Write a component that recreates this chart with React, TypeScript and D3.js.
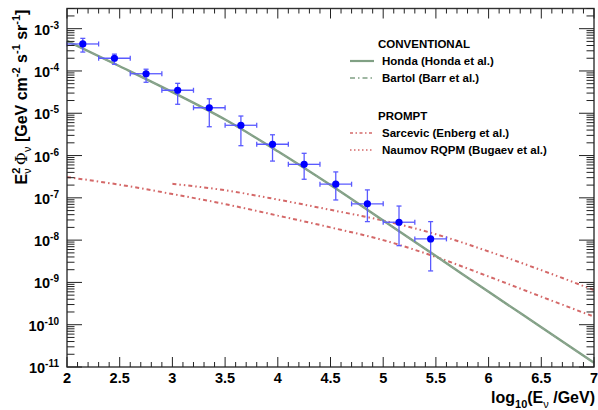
import React, { useRef, useEffect } from "react";
import * as d3 from "d3";

// measured points (IceCube-like unfolding)
const dataLogE = [2.15, 2.45, 2.75, 3.05, 3.35, 3.65, 3.95, 4.25, 4.55, 4.85, 5.15, 5.45];
const dataFlux = [4.35e-4, 2.0e-4, 8.6e-5, 3.5e-5, 1.35e-5, 5.2e-6, 1.85e-6, 6.2e-7, 2.1e-7, 7.2e-8, 2.65e-8, 1.07e-8];
const dataHigh = [5.9e-4, 2.5e-4, 1.1e-4, 5.1e-5, 2.2e-5, 8.6e-6, 3.1e-6, 1.13e-6, 4.1e-7, 1.54e-7, 6.4e-8, 2.74e-8];
const dataLow = [2.8e-4, 1.44e-4, 5.4e-5, 1.63e-5, 4.8e-6, 1.71e-6, 7.4e-7, 2.75e-7, 8.9e-8, 2.74e-8, 7.4e-9, 1.87e-9];
const binHalfWidth = 0.15;

// model curves
const convLogE = [2, 2.5, 3, 3.5, 4, 4.5, 5, 5.5, 6, 6.5, 7];
const hondaFlux = [5.13e-4, 1.29e-4, 3.16e-5, 7.1e-6, 1.26e-6, 2.0e-7, 2.9e-8, 4.2e-9, 6.0e-10, 8.7e-11, 1.26e-11];
const bartolFlux = [5.1e-4, 1.28e-4, 3.15e-5, 7.0e-6, 1.25e-6, 1.98e-7, 2.88e-8, 4.15e-9, 5.95e-10, 8.6e-11, 1.24e-11];
const sarcevicFlux = [3.1e-7, 2.04e-7, 1.23e-7, 7.1e-8, 3.8e-8, 2.0e-8, 1.0e-8, 4.0e-9, 1.38e-9, 4.6e-10, 1.55e-10];
const naumovLogE = [3, 3.5, 4, 4.5, 5, 5.5, 6, 6.5, 7];
const naumovFlux = [2.14e-7, 1.51e-7, 9.1e-8, 5.2e-8, 2.9e-8, 1.38e-8, 5.4e-9, 1.95e-9, 6.6e-10];

const xTicks = [2, 2.5, 3, 3.5, 4, 4.5, 5, 5.5, 6, 6.5, 7];
const yExponents = [-3, -4, -5, -6, -7, -8, -9, -10, -11];

const W = 598, H = 410;
const plot = { left: 67, right: 594, top: 8.5, bottom: 367 };
const FONT = "Liberation Sans, Arial, Helvetica, sans-serif";
const GREEN = "#80a084";
const RED = "#d46868";

export default function App() {
  const ref = useRef<SVGSVGElement>(null);

  useEffect(() => {
    const svg = d3.select(ref.current);
    svg.selectAll("*").remove();

    const x = d3.scaleLinear().domain([2, 7]).range([plot.left, plot.right]);
    const y = d3.scaleLog().domain([1e-11, 3e-3]).range([plot.bottom, plot.top]);

    const g = svg.append("g");

    // curves
    const line = d3.line<[number, number]>()
      .x(d => x(d[0]))
      .y(d => y(d[1]))
      .curve(d3.curveMonotoneX);

    const curves = [
      { e: convLogE, f: sarcevicFlux, color: RED, w: 2, dash: "4,3,1.5,3" },
      { e: naumovLogE, f: naumovFlux, color: RED, w: 2, dash: "4,3,1.5,3,1.5,3" },
      { e: convLogE, f: hondaFlux, color: GREEN, w: 2.4, dash: null },
      { e: convLogE, f: bartolFlux, color: "#8fa592", w: 1.2, dash: "6,3,1.5,3" },
    ];
    curves.forEach(c => {
      g.append("path")
        .datum(c.e.map((e, i) => [e, c.f[i]] as [number, number]))
        .attr("fill", "none")
        .attr("stroke", c.color)
        .attr("stroke-width", c.w)
        .attr("stroke-dasharray", c.dash)
        .attr("d", line);
    });

    // data points with error bars
    const errColor = "#5a5aff";
    const pts = g.selectAll(".pt").data(dataLogE.map((e, i) => ({ e, f: dataFlux[i], hi: dataHigh[i], lo: dataLow[i] })))
      .enter().append("g").attr("class", "pt");
    pts.append("line")
      .attr("x1", d => x(d.e - binHalfWidth)).attr("x2", d => x(d.e + binHalfWidth))
      .attr("y1", d => y(d.f)).attr("y2", d => y(d.f))
      .attr("stroke", errColor).attr("stroke-width", 1.3);
    pts.append("line")
      .attr("x1", d => x(d.e)).attr("x2", d => x(d.e))
      .attr("y1", d => y(d.hi)).attr("y2", d => y(d.lo))
      .attr("stroke", errColor).attr("stroke-width", 1.3);
    // end caps
    [-binHalfWidth, binHalfWidth].forEach(off => {
      pts.append("line")
        .attr("x1", d => x(d.e + off)).attr("x2", d => x(d.e + off))
        .attr("y1", d => y(d.f) - 2.5).attr("y2", d => y(d.f) + 2.5)
        .attr("stroke", errColor).attr("stroke-width", 1.3);
    });
    ["hi", "lo"].forEach(k => {
      pts.append("line")
        .attr("x1", d => x(d.e) - 2.5).attr("x2", d => x(d.e) + 2.5)
        .attr("y1", (d: any) => y(d[k])).attr("y2", (d: any) => y(d[k]))
        .attr("stroke", errColor).attr("stroke-width", 1.3);
    });
    pts.append("circle")
      .attr("cx", d => x(d.e)).attr("cy", d => y(d.f))
      .attr("r", 3.6).attr("fill", "#0000ff");

    // frame
    g.append("rect")
      .attr("x", plot.left).attr("y", plot.top)
      .attr("width", plot.right - plot.left).attr("height", plot.bottom - plot.top)
      .attr("fill", "none").attr("stroke", "#333").attr("stroke-width", 1.4);

    const tickColor = "#222";
    // x ticks (bottom and top)
    const xMinor = d3.range(20, 71).map(v => v / 10);
    xMinor.forEach(v => {
      const major = Math.abs(v * 2 - Math.round(v * 2)) < 1e-6;
      const len = major ? 10 : 5;
      g.append("line").attr("x1", x(v)).attr("x2", x(v))
        .attr("y1", plot.bottom).attr("y2", plot.bottom - len)
        .attr("stroke", tickColor).attr("stroke-width", 1);
      g.append("line").attr("x1", x(v)).attr("x2", x(v))
        .attr("y1", plot.top).attr("y2", plot.top + len)
        .attr("stroke", tickColor).attr("stroke-width", 1);
    });

    // y ticks (left and right)
    const yTicksAll: { v: number; major: boolean }[] = [];
    for (let p = -11; p <= -3; p++) {
      for (let m = 1; m <= 9; m++) {
        const v = m * Math.pow(10, p);
        if (v <= 3.0001e-3) yTicksAll.push({ v, major: m === 1 });
      }
    }
    yTicksAll.forEach(t => {
      const len = t.major ? 15 : 7.5;
      g.append("line").attr("x1", plot.left).attr("x2", plot.left + len)
        .attr("y1", y(t.v)).attr("y2", y(t.v))
        .attr("stroke", tickColor).attr("stroke-width", 1);
      g.append("line").attr("x1", plot.right).attr("x2", plot.right - len)
        .attr("y1", y(t.v)).attr("y2", y(t.v))
        .attr("stroke", tickColor).attr("stroke-width", 1);
    });

    // x tick labels
    g.selectAll(".xl").data(xTicks).enter().append("text")
      .attr("x", d => x(d)).attr("y", 383)
      .attr("text-anchor", "middle")
      .style("font-family", FONT).style("font-weight", "bold").style("font-size", "14.5px")
      .text(d => String(d));

    // y tick labels 10^n
    yExponents.forEach(p => {
      const t = g.append("text")
        .attr("x", 59).attr("y", y(Math.pow(10, p)) + 6)
        .attr("text-anchor", "end")
        .style("font-family", FONT).style("font-weight", "bold").style("font-size", "14.5px");
      t.append("tspan").text("10");
      t.append("tspan").attr("dy", -6).style("font-size", "10px").text(String(p));
    });

    // x axis title
    const xt = g.append("text")
      .attr("x", 595).attr("y", 403).attr("text-anchor", "end")
      .style("font-family", FONT).style("font-weight", "bold").style("font-size", "16px");
    xt.append("tspan").text("log");
    xt.append("tspan").attr("dy", 5).style("font-size", "11px").text("10");
    xt.append("tspan").attr("dy", -5).text("(E");
    xt.append("tspan").attr("dy", 5).style("font-size", "11px").style("font-weight", "normal").text("ν");
    xt.append("tspan").attr("dy", -5).text(" /GeV)");

    // y axis title
    const yt = g.append("text")
      .attr("transform", "translate(27,97) rotate(-90)")
      .attr("text-anchor", "middle")
      .style("font-family", FONT).style("font-weight", "bold").style("font-size", "16px");
    yt.append("tspan").text("E");
    yt.append("tspan").attr("dy", -7).style("font-size", "11px").text("2");
    yt.append("tspan").attr("dx", -6).attr("dy", 11).style("font-size", "11px").style("font-weight", "normal").text("ν");
    yt.append("tspan").attr("dy", -4).attr("dx", 3).style("font-family", "DejaVu Serif, serif").style("font-weight", "normal").text("Φ");
    yt.append("tspan").attr("dy", 4).style("font-size", "11px").style("font-weight", "normal").text("ν");
    yt.append("tspan").attr("dy", -4).text("  [GeV cm");
    yt.append("tspan").attr("dy", -7).style("font-size", "11px").text("-2");
    yt.append("tspan").attr("dy", 7).text(" s");
    yt.append("tspan").attr("dy", -7).style("font-size", "11px").text("-1");
    yt.append("tspan").attr("dy", 7).text(" sr");
    yt.append("tspan").attr("dy", -7).style("font-size", "11px").text("-1");
    yt.append("tspan").attr("dy", 7).text("]");

    // legend
    const leg = g.append("g").style("font-family", FONT).style("font-weight", "bold").style("font-size", "11.5px");
    const heads = [{ t: "CONVENTIONAL", y: 47.5 }, { t: "PROMPT", y: 119.5 }];
    heads.forEach(h => leg.append("text").attr("x", 378).attr("y", h.y).text(h.t));
    const entries = [
      { t: "Honda (Honda et al.)", y: 61, color: GREEN, w: 2.2, dash: null },
      { t: "Bartol (Barr et al.)", y: 78, color: GREEN, w: 1.6, dash: "5,3,1.5,3" },
      { t: "Sarcevic (Enberg et al.)", y: 133, color: RED, w: 1.6, dash: "3,2.5,1.5,2.5" },
      { t: "Naumov RQPM (Bugaev et al.)", y: 150, color: RED, w: 1.6, dash: "1.5,2.5" },
    ];
    entries.forEach(e => {
      leg.append("line").attr("x1", 350).attr("x2", 374).attr("y1", e.y).attr("y2", e.y)
        .attr("stroke", e.color).attr("stroke-width", e.w).attr("stroke-dasharray", e.dash);
      leg.append("text").attr("x", 382).attr("y", e.y + 4).text(e.t);
    });
  }, []);

  return (
    <svg ref={ref} width={W} height={H}
      style={{ position: "absolute", left: 0, top: 0, background: "#fff" }} />
  );
}
